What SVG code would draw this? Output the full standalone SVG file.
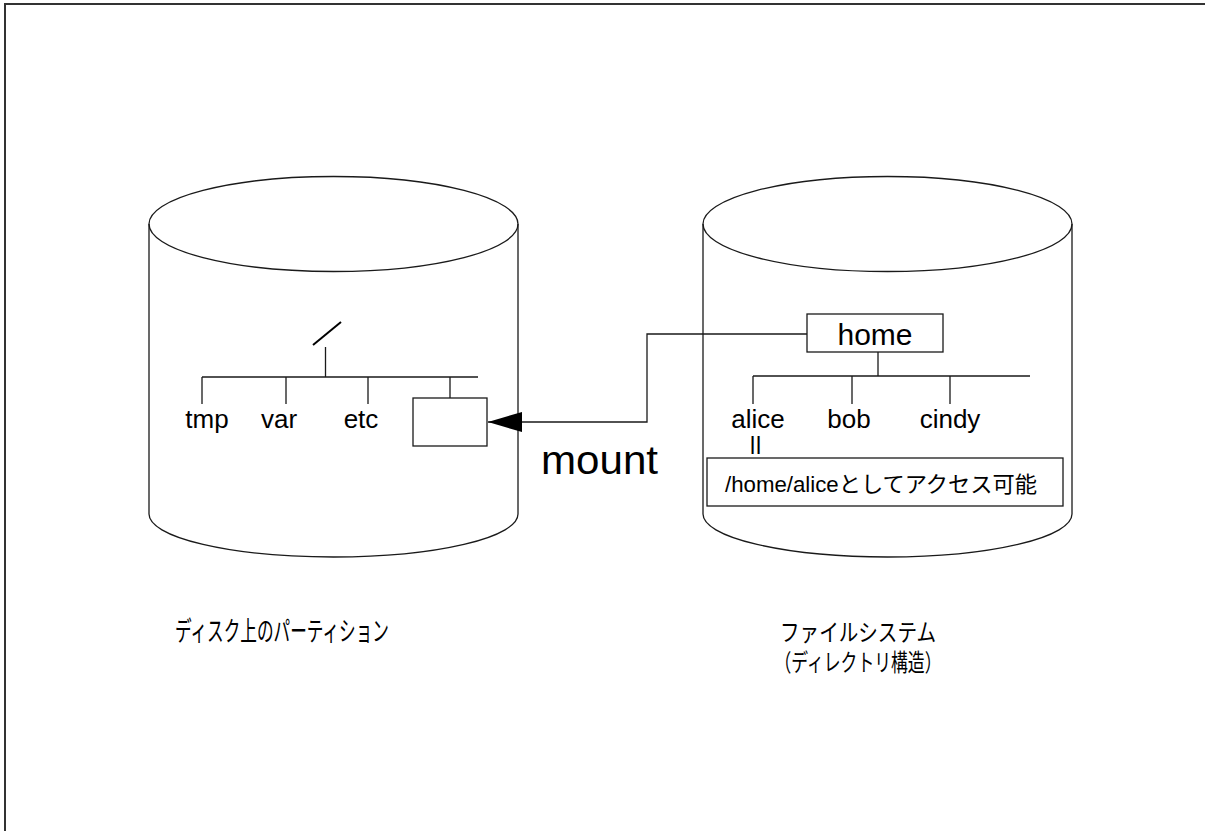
<svg xmlns="http://www.w3.org/2000/svg" width="1205" height="831" viewBox="0 0 1205 831">
<style>
.ln{fill:none;stroke:#1a1a1a;stroke-width:1.3}
.bx{fill:#fff;stroke:#1a1a1a;stroke-width:1.3}
.t{font-family:"Liberation Sans","Noto Sans CJK JP",sans-serif;fill:#000}
.j{font-family:"Noto Sans CJK JP","Liberation Sans",sans-serif;fill:#000}
</style>
<defs>
<marker id="ah" markerUnits="userSpaceOnUse" viewBox="0 0 34 20" refX="34" refY="10" markerWidth="34" markerHeight="20" orient="auto">
<path d="M0,0 L34,10 L0,20 z" fill="#000"/>
</marker>
</defs>
<rect x="5" y="4" width="1300" height="900" fill="#fff" stroke="#333" stroke-width="2"/>

<g id="partition">
<ellipse class="ln" cx="333.5" cy="224" rx="184.5" ry="47.5"/>
<path class="ln" d="M149,224 L149,514 A184.5,43 0 0 0 518,514 L518,224"/>
<line x1="313" y1="345" x2="341" y2="322" stroke="#000" stroke-width="2"/>
<path class="ln" d="M325.5,347 V377 M202,377 H478 M202,377 V404 M286,377 V404 M368,377 V404 M450,377 V398"/>
<text class="t" x="207" y="428" font-size="26" text-anchor="middle">tmp</text>
<text class="t" x="279" y="428" font-size="26" text-anchor="middle">var</text>
<text class="t" x="361" y="428" font-size="26" text-anchor="middle">etc</text>
<rect id="mountpoint" class="bx" x="413" y="398" width="74" height="48"/>
<text class="j" x="282" y="641" font-size="27" text-anchor="middle" textLength="214" lengthAdjust="spacingAndGlyphs">ディスク上のパーティション</text>
</g>

<g id="filesystem">
<ellipse class="ln" cx="887.5" cy="224" rx="184.5" ry="47.5"/>
<path class="ln" d="M703,224 L703,514 A184.5,43 0 0 0 1072,514 L1072,224"/>
<rect class="bx" x="807" y="314" width="136" height="38"/>
<text class="t" x="875" y="345" font-size="30" text-anchor="middle">home</text>
<path class="ln" d="M878,352 V376 M753,376 H1030 M753,376 V404 M852,376 V404 M950,376 V404"/>
<text class="t" x="758" y="428" font-size="26" text-anchor="middle">alice</text>
<text class="t" x="849" y="428" font-size="26" text-anchor="middle">bob</text>
<text class="t" x="950" y="428" font-size="26" text-anchor="middle">cindy</text>
<text class="t" x="756" y="454" font-size="23" text-anchor="middle" letter-spacing="1">ll</text>
<rect class="bx" x="707" y="458" width="356" height="48"/>
<text class="t" x="725" y="492" font-size="22" textLength="312" lengthAdjust="spacingAndGlyphs">/home/aliceとしてアクセス可能</text>
<text class="j" x="858" y="641" font-size="24" text-anchor="middle" textLength="156" lengthAdjust="spacingAndGlyphs">ファイルシステム</text>
<text class="j" x="858" y="671" font-size="24" text-anchor="middle" textLength="167" lengthAdjust="spacingAndGlyphs">（ディレクトリ構造）</text>
</g>

<g id="connectors">
<polyline class="ln" points="807,334 647,334 647,422 488,422" marker-end="url(#ah)"/>
<text class="t" x="541" y="474" font-size="40" textLength="117" lengthAdjust="spacingAndGlyphs">mount</text>
</g>
</svg>
